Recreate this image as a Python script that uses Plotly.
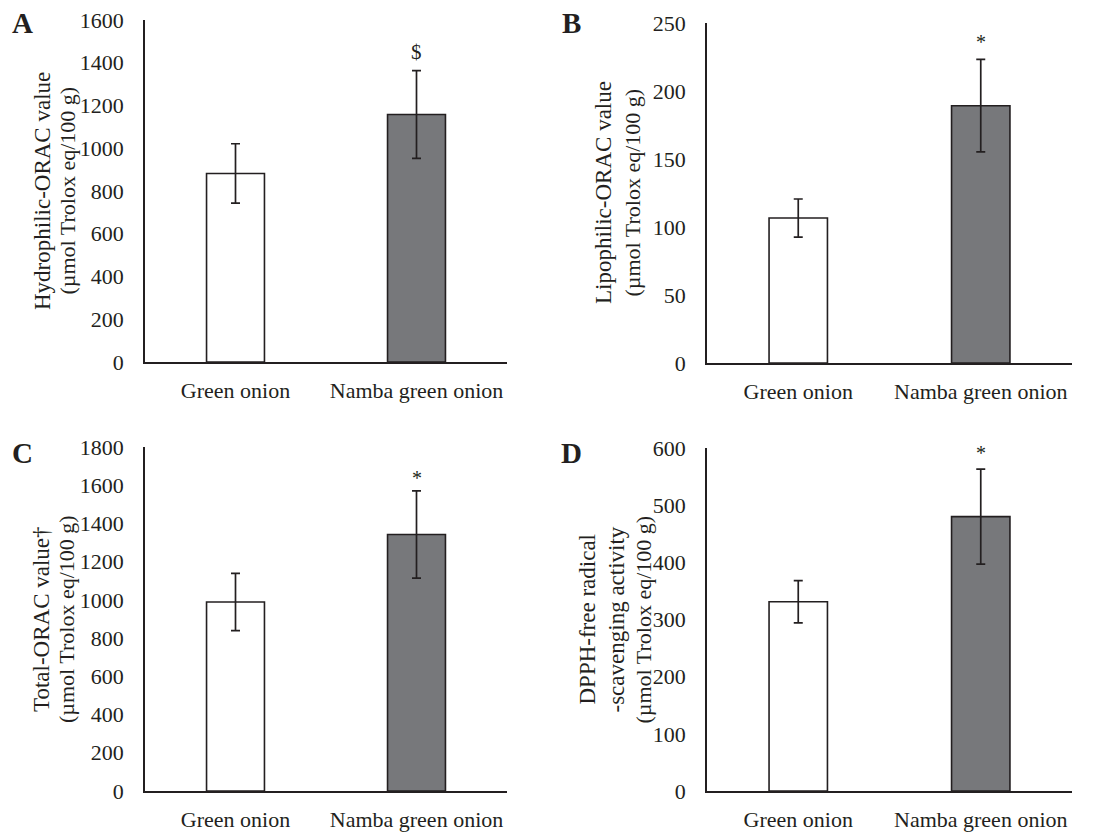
import plotly.graph_objects as go

categories = ["Green onion", "Namba green onion"]

panel_letters = ["A", "B", "C", "D"]
means_A = [882, 1158]
sd_A = [139, 205]
means_B = [106.6, 189.2]
sd_B = [14, 34]
means_C = [989, 1342]
sd_C = [150, 228]
means_D = [331, 480]
sd_D = [37, 83]

marks = ["$", "*", "*", "*"]
mark_y = [1452, 236, 1640, 591]

ranges = [[0, 1600], [0, 250], [0, 1800], [0, 600]]
dticks = [200, 50, 200, 100]
title_lines = [
    ["Hydrophilic-ORAC value", "(µmol Trolox eq/100 g)"],
    ["Lipophilic-ORAC value", "(µmol Trolox eq/100 g)"],
    ["Total-ORAC value†", "(µmol Trolox eq/100 g)"],
    ["DPPH-free radical", "-scavenging activity", "(µmol Trolox eq/100 g)"],
]

W, H = 1099, 834
OFF = 8  # page body offset
# plot-area pixel boxes (left, right, top, bottom) in screen pixels
boxes = [(145, 507, 20, 362), (707, 1072, 23, 363), (145, 507, 447, 791), (707, 1072, 448, 791)]
title_line_x = [[43, 67.5], [604, 632.5], [41, 66], [587, 616, 643]]
letter_pos = [(22, 23), (571, 23), (22, 453), (571, 453)]

FONT = "Liberation Serif"
TXT = "#231f20"
BAR_COLORS = ["#ffffff", "#77787b"]


def px(v):
    return (v - OFF) / W


def py(v):
    return 1 - (v - OFF) / H


fig = go.Figure()
all_means = [means_A, means_B, means_C, means_D]
all_sd = [sd_A, sd_B, sd_C, sd_D]
annotations = []
layout = {}
for i in range(4):
    ax = "" if i == 0 else str(i + 1)
    l, r, t, b = boxes[i]
    fig.add_trace(go.Bar(
        x=categories, y=all_means[i],
        marker=dict(color=BAR_COLORS, line=dict(color="#231f20", width=1.6)),
        error_y=dict(type="data", array=all_sd[i], visible=True, color="#231f20", thickness=1.7, width=4.5),
        xaxis="x" + ax, yaxis="y" + ax, showlegend=False,
    ))
    layout["xaxis" + ax] = dict(
        domain=[px(l), px(r)], anchor="y" + ax, automargin=False,
        showline=True, linecolor="#231f20", linewidth=1.6,
        showgrid=False, ticks="", zeroline=False,
        tickfont=dict(family=FONT, size=22, color=TXT),
        ticklabelstandoff=8, ticklabeloverflow="allow", fixedrange=True,
    )
    layout["yaxis" + ax] = dict(
        domain=[py(b), py(t)], anchor="x" + ax, automargin=False,
        range=ranges[i], dtick=dticks[i], tick0=0,
        showline=True, linecolor="#231f20", linewidth=1.6,
        showgrid=False, ticks="", zeroline=False,
        tickfont=dict(family=FONT, size=22, color=TXT),
        ticklabelstandoff=15, ticklabeloverflow="allow",
    )
    for line_text, lx in zip(title_lines[i], title_line_x[i]):
        annotations.append(dict(
            text=line_text, xref="paper", yref="paper",
            x=px(lx), y=py((t + b) / 2), textangle=-90,
            showarrow=False, xanchor="center", yanchor="middle",
            font=dict(family=FONT, size=22 if line_text.startswith("(") else 23, color=TXT),
        ))
    annotations.append(dict(
        text="<b>" + panel_letters[i] + "</b>", xref="paper", yref="paper",
        x=px(letter_pos[i][0]), y=py(letter_pos[i][1]),
        showarrow=False, xanchor="center", yanchor="middle",
        font=dict(family=FONT, size=29, color=TXT),
    ))
    annotations.append(dict(
        text=marks[i], xref="x" + ax, yref="y" + ax,
        x=categories[1], y=mark_y[i], showarrow=False,
        xanchor="center", yanchor="middle",
        font=dict(family=FONT, size=21 if marks[i] == "$" else 20, color=TXT),
    ))

fig.update_layout(
    width=W, height=H, margin=dict(l=0, r=0, t=0, b=0, autoexpand=False),
    paper_bgcolor="white", plot_bgcolor="white",
    bargap=0.68, annotations=annotations, **layout,
)
fig.write_html("out.html")
